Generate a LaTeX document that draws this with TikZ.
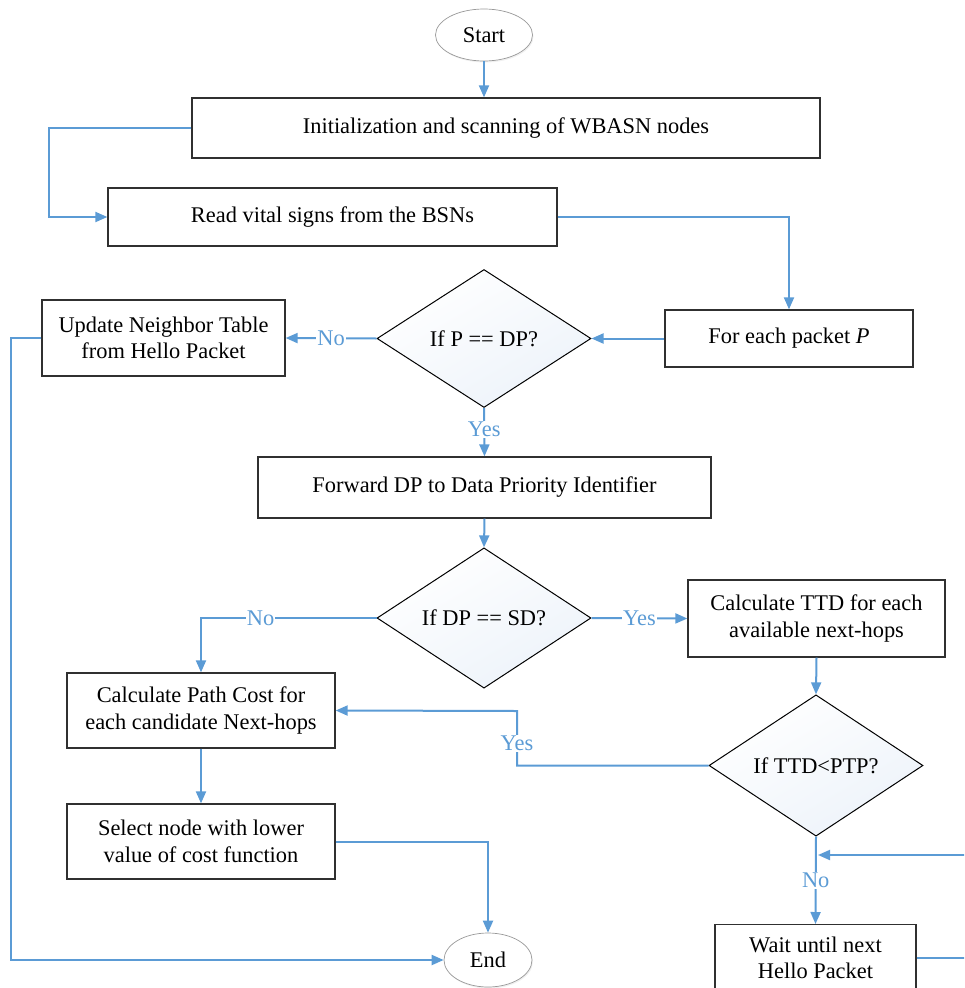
\documentclass[tikz,border=0pt]{standalone}
\usepackage{fontspec}
\setmainfont{Liberation Serif}
\usetikzlibrary{shapes.geometric,arrows.meta,shadows}
\definecolor{lblue}{HTML}{5B9BD5}
\definecolor{boxline}{HTML}{303030}
\definecolor{dfill}{HTML}{EDF3FA}
\begin{document}
\begin{tikzpicture}[x=1pt,y=-1pt,
  txt/.style={font=\fontsize{22.4}{26.5}\selectfont},
  box/.style={txt, draw=boxline, line width=1.3pt, align=center, inner sep=0pt, fill=white},
  dia/.style={txt, diamond, draw=black, line width=1pt, inner sep=0pt,
    minimum width=214pt, minimum height=138pt, shading=axis, top color=white, bottom color=dfill, shading angle=30},
  term/.style={txt, ellipse, draw=gray!80, line width=0.7pt, fill=white, inner sep=0pt,
    drop shadow={opacity=0.12, shadow xshift=1pt, shadow yshift=-1.5pt}},
  con/.style={draw=lblue, line width=2pt, -{Triangle[length=12pt,width=10pt]}},
  lab/.style={txt, fill=white, text=lblue, inner sep=1pt}]
\useasboundingbox (0,0) rectangle (964,988);
\clip (0,0) rectangle (964,988);

\node[term, minimum width=97pt, minimum height=52pt] (start) at (484,35) {Start};
\node[box, minimum width=628pt, minimum height=60pt] (init) at (506,128) {Initialization and scanning of WBASN nodes};
\node[box, minimum width=449pt, minimum height=58pt] (read) at (332.5,217) {Read vital signs from the BSNs};
\node[box, minimum width=248pt, minimum height=57pt] (foreach) at (789,338.5) {For each packet \textit{P}};
\node[dia] (d1) at (484,338.5) {If P == DP?};
\node[box, minimum width=243pt, minimum height=76pt] (update) at (163.5,338) {Update Neighbor Table\\from Hello Packet};
\node[box, minimum width=453pt, minimum height=61pt] (forward) at (484.5,487.5) {Forward DP to Data Priority Identifier};
\node[dia] (d2) at (484,618) {If DP == SD?};
\node[box, minimum width=257pt, minimum height=77pt] (ttd) at (816.5,618.5) {Calculate TTD for each\\available next-hops};
\node[box, minimum width=268pt, minimum height=75pt] (path) at (201,710.5) {Calculate Path Cost for\\each candidate Next-hops};
\node[dia, minimum height=141pt] (d3) at (816,765.5) {If TTD<PTP?};
\node[box, minimum width=268pt, minimum height=75pt] (select) at (201,841.5) {Select node with lower\\value of cost function};
\node[term, minimum width=88pt, minimum height=54pt] (end) at (488,960) {End};
\node[box, minimum width=201pt, minimum height=66pt, anchor=north] (wait) at (815.5,924) {Wait until next\\Hello Packet};

\draw[con] (start.south) -- (start.south |- init.north);
\draw[con] (init.west) -- ++(-142,0) |- (read.west);
\draw[con] (read.east) -| (foreach.north);
\draw[con] (foreach.west) -- (d1.east);
\draw[con] (d1.west) -- node[lab]{No} (update.east);
\draw[con] (update.west) -- ++(-30,0) |- (end.west);
\draw[con] (d1.south) -- node[lab, pos=0.45]{Yes} (forward.north);
\draw[con] (forward.south) -- (d2.north);
\draw[con] (d2.west) -| node[lab, pos=0.33]{No} (path.north);
\draw[con] (d2.east) -- node[lab]{Yes} (ttd.west);
\draw[con] (ttd.south) -- (d3.north);
\coordinate (ybend) at (517,711);
\draw[con] (d3.west) -| node[lab, pos=0.7]{Yes} (ybend) -- (path.east);
\draw[con] (path.south) -- (select.north);
\draw[con] (select.east) -| (end.north);
\draw[con] (d3.south) -- node[lab, pos=0.5]{No} (wait.north);
\coordinate (loopA) at (990,958);
\coordinate (loopB) at (990,855);
\coordinate (loopC) at (818,855);
\draw[con] (wait.east |- loopA) -- (loopA) -- (loopB) -- (loopC);
\end{tikzpicture}
\end{document}
